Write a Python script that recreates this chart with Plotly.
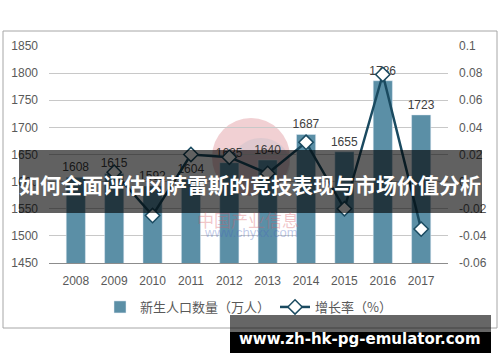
import plotly.graph_objects as go

years = ["2008", "2009", "2010", "2011", "2012", "2013", "2014", "2015", "2016", "2017"]
births = [1608, 1615, 1592, 1604, 1635, 1640, 1687, 1655, 1786, 1723]
growth = [None, 0.007, -0.025, 0.020, 0.018, 0.006, 0.029, -0.020, 0.079, -0.035]
left_ticks = [1450, 1500, 1550, 1600, 1650, 1700, 1750, 1800, 1850]
right_ticks = [-0.06, -0.04, -0.02, 0, 0.02, 0.04, 0.06, 0.08, 0.1]
right_text = ["-0.06", "-0.04", "-0.02", "0", "0.02", "0.04", "0.06", "0.08", "0.1"]
bar_name = "新生人口数量（万人）"
line_name = "增长率（%）"
title_text = "如何全面评估冈萨雷斯的竞技表现与市场价值分析"
site_text = "www.zh-hk-pg-emulator.com"

W, H = 500, 362
L, R, T, B = 49, 52, 46, 99
pw, ph = W - L - R, H - T - B

def px(x):
    return (x - L) / pw

def py(y):
    return (H - B - y) / ph

FONT = "Liberation Sans, Arial, Noto Sans CJK SC, sans-serif"
BAR_C = "#5b8fa6"
LINE_C = "#1a4a60"

fig = go.Figure()
fig.add_trace(go.Bar(
    x=years, y=births, name=bar_name, marker_color=BAR_C,
    text=[str(v) for v in births], textposition="outside",
    constraintext="none", cliponaxis=False,
    textfont=dict(size=12, color="#404040", family=FONT),
    yaxis="y",
))
fig.add_trace(go.Scatter(
    x=years, y=growth, name=line_name, mode="lines+markers",
    line=dict(color=LINE_C, width=2.5),
    marker=dict(symbol="diamond", size=11, color="white",
                line=dict(color=LINE_C, width=1.5)),
    yaxis="y2", connectgaps=False,
))

shapes = [
    dict(type="rect", xref="paper", yref="paper",
         x0=px(3), x1=px(497), y0=py(328), y1=py(31),
         line=dict(color="#a6a6a6", width=1), fillcolor="rgba(0,0,0,0)", layer="below"),
    dict(type="circle", xref="paper", yref="paper",
         x0=px(212), x1=px(290), y0=py(196), y1=py(118),
         line=dict(width=0), fillcolor="rgba(214,120,130,0.35)", layer="below"),
    dict(type="circle", xref="paper", yref="paper",
         x0=px(232), x1=px(290), y0=py(190), y1=py(138),
         line=dict(width=0), fillcolor="rgba(190,190,200,0.35)", layer="below"),
    dict(type="rect", xref="paper", yref="paper",
         x0=px(19), x1=px(482), y0=py(213), y1=py(150),
         line=dict(width=0), fillcolor="rgba(0,0,0,0.62)", layer="above"),
    dict(type="rect", xref="paper", yref="paper",
         x0=px(230), x1=px(491), y0=py(332), y1=py(315),
         line=dict(width=0), fillcolor="rgba(0,0,0,0.6)", layer="above"),
    dict(type="rect", xref="paper", yref="paper",
         x0=px(230), x1=px(491), y0=py(353), y1=py(332),
         line=dict(width=0), fillcolor="black", layer="above"),
]

annotations = [
    dict(text="中国产业信息", xref="paper", yref="paper", x=px(248), y=py(219),
         showarrow=False, font=dict(size=17, color="rgba(215,90,100,0.35)",
                                    family="Noto Sans CJK SC"), xanchor="center", yanchor="middle"),
    dict(text="www.chyxx.com", xref="paper", yref="paper", x=px(250), y=py(233),
         showarrow=False, font=dict(size=13, color="rgba(70,100,190,0.35)", family=FONT),
         xanchor="center", yanchor="middle"),
    dict(text="<b>" + title_text + "</b>", xref="paper", yref="paper", x=px(250), y=py(184),
         showarrow=False, font=dict(size=21, color="white", family="Noto Sans CJK SC"),
         xanchor="center", yanchor="middle"),
    dict(text="<b>" + site_text + "</b>", xref="paper", yref="paper", x=px(360), y=py(339),
         showarrow=False, font=dict(size=15, color="white", family="DejaVu Sans, Noto Sans"),
         xanchor="center", yanchor="middle"),
]

fig.update_layout(
    width=W, height=H,
    margin=dict(l=L, r=R, t=T, b=B, pad=0),
    paper_bgcolor="white", plot_bgcolor="rgba(0,0,0,0)",
    bargap=0.5,
    font=dict(family=FONT, size=12, color="#595959"),
    showlegend=True,
    legend=dict(orientation="h", x=0.5, xanchor="center", y=py(307), yanchor="middle",
                font=dict(size=13, color="#595959", family="Noto Sans CJK SC"),
                bgcolor="rgba(0,0,0,0)", itemwidth=30),
    xaxis=dict(type="category", showgrid=False, showline=True, linecolor="#8c8c8c",
               linewidth=1, ticks="", ticklabelstandoff=7, automargin=False,
               tickfont=dict(size=12, color="#595959", family=FONT)),
    yaxis=dict(range=[1450, 1850], tickvals=left_ticks, showgrid=True,
               gridcolor="#c8c8c8", gridwidth=1, zeroline=False, showline=False,
               ticks="", ticklabelstandoff=10, automargin=False,
               tickfont=dict(size=12, color="#595959", family=FONT)),
    yaxis2=dict(range=[-0.06, 0.1], overlaying="y", side="right",
                tickvals=right_ticks, ticktext=right_text, showgrid=False,
                zeroline=False, showline=False, ticks="", ticklabelstandoff=10,
                automargin=False,
                tickfont=dict(size=12, color="#595959", family=FONT)),
    shapes=shapes,
    annotations=annotations,
)

fig.write_html("out.html", config={"displayModeBar": False},
               post_script="document.body.style.margin='0';document.body.style.padding='0';")
